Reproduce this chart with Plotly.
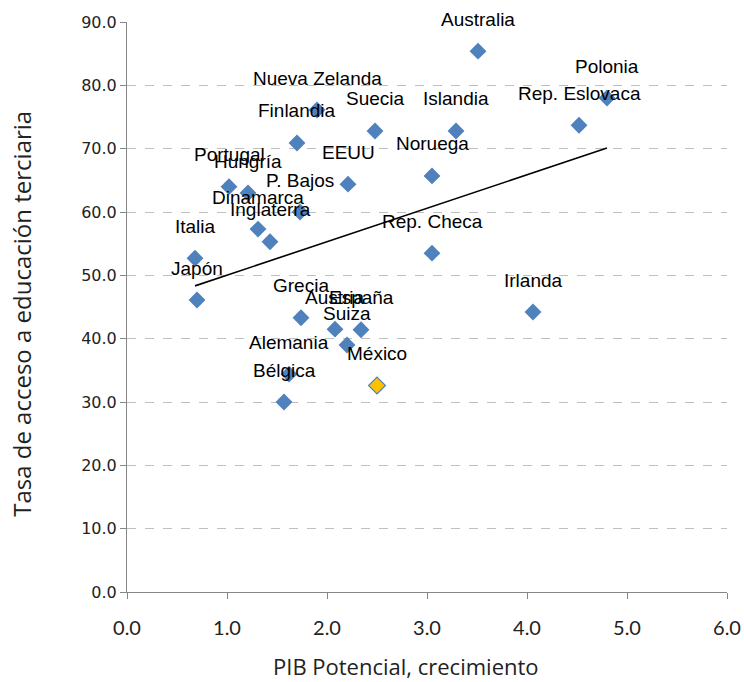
import numpy as np
import plotly.graph_objects as go

# Countries, potential GDP growth (x) and tertiary education access rate (y)
countries = ["Australia", "Polonia", "Rep. Eslovaca", "Nueva Zelanda", "Finlandia",
             "Suecia", "Islandia", "Noruega", "EEUU", "Portugal", "Hungría",
             "P. Bajos", "Dinamarca", "Inglaterra", "Italia", "Japón", "Rep. Checa",
             "Irlanda", "Grecia", "Austria", "España", "Suiza", "Alemania", "Bélgica"]
pib = [3.51, 4.80, 4.52, 1.90, 1.70, 2.48, 3.29, 3.05, 2.21, 1.02, 1.21,
       1.73, 1.31, 1.43, 0.68, 0.70, 3.05, 4.06, 1.74, 2.08, 2.34, 2.20, 1.62, 1.57]
tasa = [85.4, 78.0, 73.7, 76.1, 70.9, 72.8, 72.8, 65.7, 64.4, 64.0, 63.0,
        60.0, 57.3, 55.3, 52.7, 46.1, 53.5, 44.2, 43.3, 41.5, 41.4, 39.0, 34.4, 30.0]

mexico_label = ["México"]
mexico_pib = [2.50]
mexico_tasa = [32.6]

x_ticks = [0, 1, 2, 3, 4, 5, 6]
y_ticks = [0, 10, 20, 30, 40, 50, 60, 70, 80, 90]

BLUE = "#4F81BD"
GOLD = "#FFC000"

all_x = np.array(pib + mexico_pib)
all_y = np.array(tasa + mexico_tasa)
slope, intercept = np.polyfit(all_x, all_y, 1)
trend_x = np.array([all_x.min(), all_x.max()])
trend_y = slope * trend_x + intercept

fig = go.Figure()

fig.add_trace(go.Scatter(
    x=trend_x, y=trend_y, mode="lines",
    line=dict(color="black", width=1.6), hoverinfo="skip", showlegend=False))

fig.add_trace(go.Scatter(
    x=pib, y=tasa, mode="markers", text=countries,
    marker=dict(symbol="diamond", size=13, color=BLUE, line=dict(width=0)),
    showlegend=False))

fig.add_trace(go.Scatter(
    x=mexico_pib, y=mexico_tasa, mode="markers", text=mexico_label,
    marker=dict(symbol="diamond", size=13, color=GOLD, line=dict(width=1.2, color=BLUE)),
    showlegend=False))

# country labels sit a fixed distance above each marker
label_font = dict(family="Liberation Sans, Arial, sans-serif", size=19, color="black")
for name, xv, yv in zip(countries + mexico_label, pib + mexico_pib, tasa + mexico_tasa):
    fig.add_annotation(x=xv, y=yv, text=name, showarrow=False,
                       xanchor="center", yanchor="middle", yshift=32, font=label_font)

title_font = dict(family="Open Sans, sans-serif", color="#222")

# horizontal axis title, set slightly left of the plot centre
fig.add_annotation(xref="paper", yref="paper", x=0.465, y=0, yshift=-74,
                   xanchor="center", yanchor="middle", showarrow=False,
                   text="PIB Potencial, crecimiento",
                   font=dict(size=22, **title_font))

# vertical axis title
fig.add_annotation(xref="paper", yref="paper", x=0, y=0.488, xshift=-105,
                   xanchor="center", yanchor="middle", showarrow=False, textangle=-90,
                   text="Tasa de acceso a educación terciaria",
                   font=dict(size=24, **title_font))

axis_line = "#868686"

fig.update_xaxes(
    range=[0, 6], tickvals=x_ticks, ticktext=[f"{v:.1f}" for v in x_ticks],
    showgrid=False, zeroline=False, showline=True, linecolor=axis_line, linewidth=1,
    ticks="outside", ticklen=6, tickcolor=axis_line, ticklabelstandoff=12,
    ticklabeloverflow="allow", automargin=False,
    tickfont=dict(family="Lato, sans-serif", size=20, color="#222"))

fig.update_yaxes(
    range=[0, 90], tickvals=y_ticks, ticktext=[f"{v:.1f}" for v in y_ticks],
    showgrid=True, gridcolor="#BFBFBF", griddash="dash", gridwidth=1,
    zeroline=False, showline=True, linecolor=axis_line, linewidth=1,
    ticks="outside", ticklen=6, tickcolor=axis_line, automargin=False,
    tickfont=dict(family="DejaVu Sans, sans-serif", size=16, color="#222"))

fig.update_layout(
    width=744, height=682,
    margin=dict(l=127, r=17, t=22, b=90),
    plot_bgcolor="white", paper_bgcolor="white")

fig.write_html("out.html")
